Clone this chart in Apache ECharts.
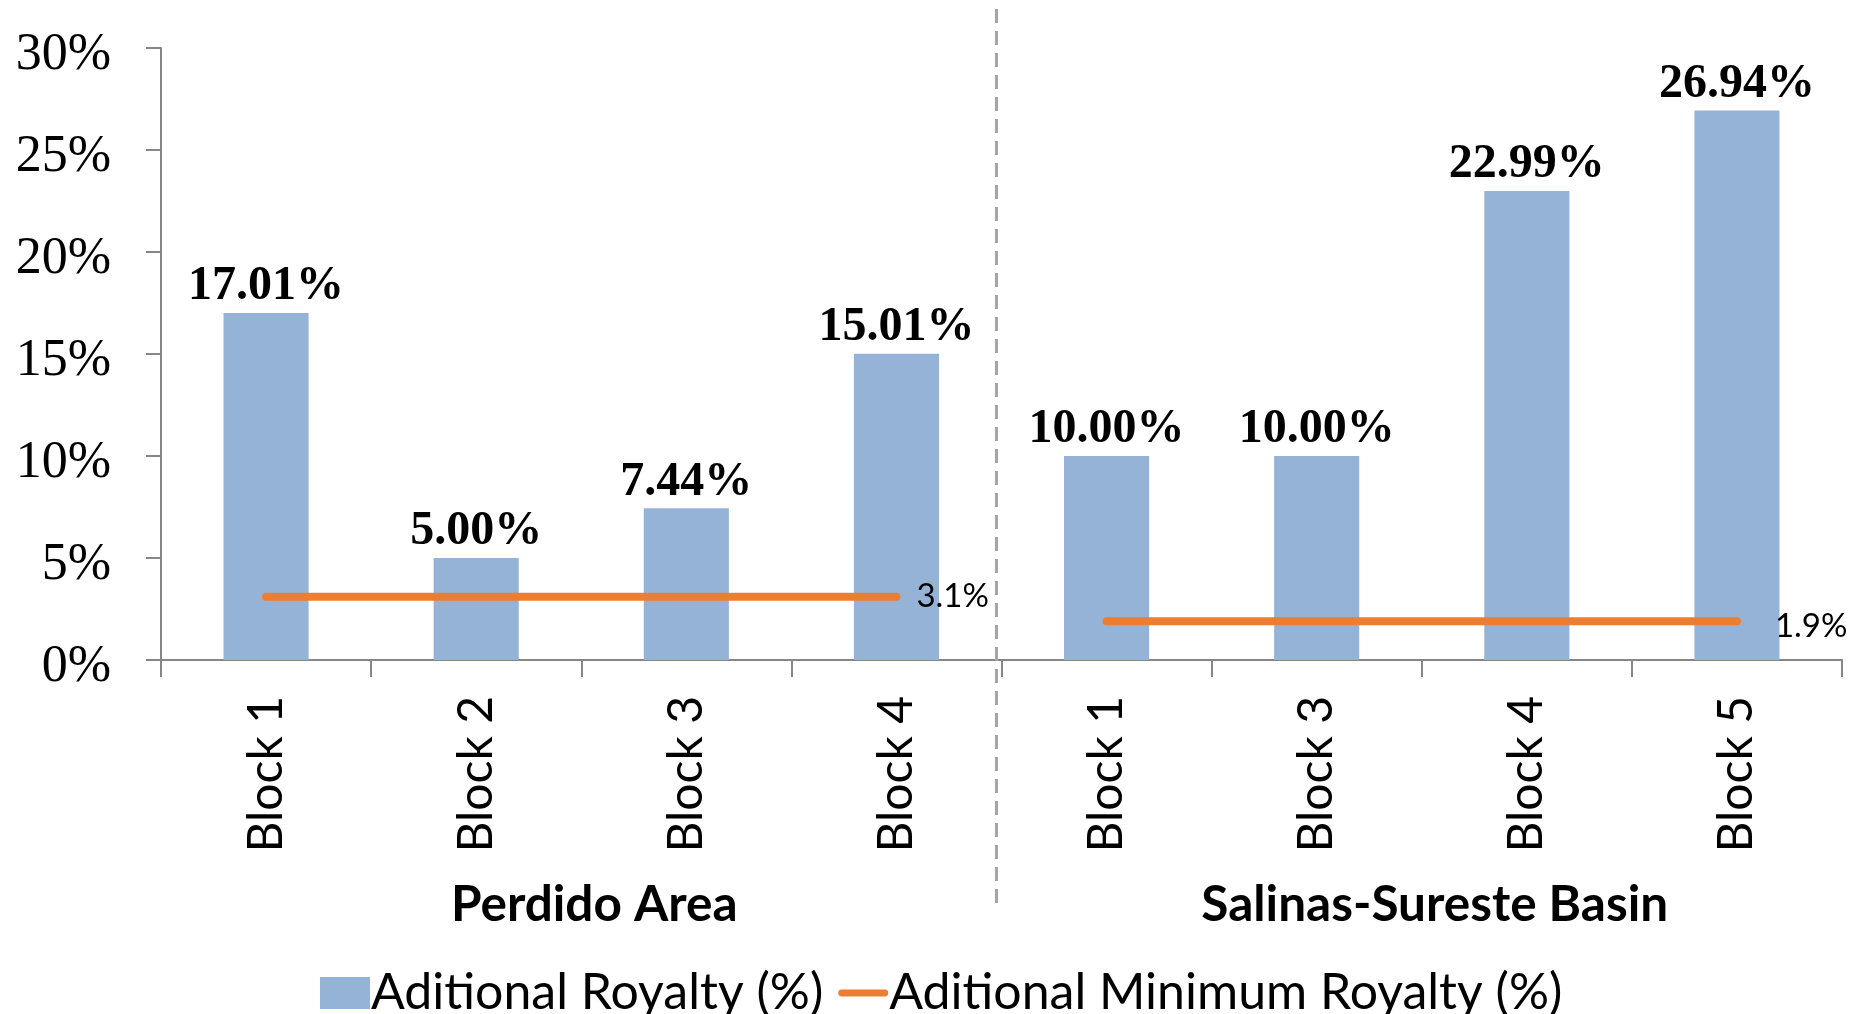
<!DOCTYPE html>
<html><head><meta charset="utf-8">
<script src="https://cdn.jsdelivr.net/npm/echarts@6/dist/echarts.min.js"></script>
<style>html,body{margin:0;padding:0;background:#fff}#c{width:1849px;height:1014px}</style>
</head><body><div id="c"></div>
<script>
const categories = ['Block 1','Block 2','Block 3','Block 4','Block 1','Block 3','Block 4','Block 5'];
const groups = ['Perdido Area','Salinas-Sureste Basin'];
const additionalRoyalty = [17.01, 5.00, 7.44, 15.01, 10.00, 10.00, 22.99, 26.94];
const minRoyaltyPerdido = [3.1, 3.1, 3.1, 3.1, '-', '-', '-', '-'];
const minRoyaltySalinas = ['-', '-', '-', '-', 1.9, 1.9, 1.9, 1.9];
const yMin = 0, yMax = 30, yStep = 5;

const SANS = "Lato, 'Liberation Sans', sans-serif";
const SERIF = "'Liberation Serif', 'Times New Roman', serif";
const chart = echarts.init(document.getElementById('c'), null, {renderer: 'canvas'});
const option = {
  animation: false,
  backgroundColor: '#fff',
  grid: {left: 161, right: 7, top: 48, bottom: 354, containLabel: false},
  legend: {
    left: 315, top: 963,
    itemWidth: 50, itemHeight: 32, itemGap: 15,
    textStyle: {fontFamily: SANS, fontSize: 50, color: '#000', padding: [0,0,0,-4]},
    data: [
      {name: 'Aditional Royalty (%)', icon: 'rect'},
      {name: 'Aditional Minimum Royalty (%)', icon: 'path://M4,0 L54,0 A4,4 0 0 1 54,8 L4,8 A4,4 0 0 1 4,0 Z'}
    ]
  },
  xAxis: [{
    type: 'category', data: categories, position: 'bottom',
    axisLine: {lineStyle: {color: '#868686', width: 2}},
    axisTick: {show: true, length: 17, lineStyle: {color: '#868686', width: 2}},
    axisLabel: {rotate: 90, margin: 36, fontFamily: SANS, fontSize: 48, color: '#000', interval: 0}
  }, {
    type: 'category', data: groups, position: 'bottom', offset: 220,
    axisLine: {show: false}, axisTick: {show: false},
    axisLabel: {margin: 0, fontFamily: SANS, fontSize: 49.5, fontWeight: 'bold', color: '#000', interval: 0, padding: [0,0,0,26]}
  }],
  yAxis: {
    type: 'value', min: yMin, max: yMax, interval: yStep,
    splitLine: {show: false},
    axisLine: {show: true, lineStyle: {color: '#868686', width: 2}},
    axisTick: {show: true, length: 15, lineStyle: {color: '#868686', width: 2}},
    axisLabel: {
      formatter: '{v|{value}%}', margin: 50, color: '#000',
      rich: {v: {fontFamily: SERIF, fontSize: 52, color: '#000', padding: [14, 0, 0, 0]}}
    }
  },
  series: [{
    name: 'Aditional Royalty (%)', type: 'bar', data: additionalRoyalty,
    barWidth: '40.5%',
    itemStyle: {color: '#95B3D7'},
    label: {show: true, position: 'top', distance: 2, fontFamily: SERIF, fontWeight: 'bold', fontSize: 48, color: '#000',
      formatter: p => p.value.toFixed(2) + '%'}
  }, {
    name: 'Aditional Minimum Royalty (%)', type: 'line', data: minRoyaltyPerdido,
    symbol: 'none', showSymbol: false,
    lineStyle: {color: '#ED7D31', width: 8, cap: 'round'},
    itemStyle: {color: '#ED7D31'},
    endLabel: {show: true, distance: 20, fontFamily: SANS, fontSize: 33, color: '#000', formatter: p => p.value + '%'}
  }, {
    name: 'Aditional Minimum Royalty (%)', type: 'line', data: minRoyaltySalinas,
    symbol: 'none', showSymbol: false,
    lineStyle: {color: '#ED7D31', width: 8, cap: 'round'},
    itemStyle: {color: '#ED7D31'},
    endLabel: {show: true, distance: 38, offset: [0, 5], fontFamily: SANS, fontSize: 33, color: '#000', formatter: p => p.value + '%'}
  }]
};
chart.setOption(option);
// dashed separator between the two groups, positioned via the axis scale
const xa = chart.convertToPixel({xAxisIndex: 0}, 3);
const xb = chart.convertToPixel({xAxisIndex: 0}, 4);
const sepX = (xa + xb) / 2 - 5;
chart.setOption({
  graphic: [{
    type: 'line', shape: {x1: sepX, y1: 9, x2: sepX, y2: 908},
    style: {stroke: '#A6A6A6', lineWidth: 3, lineDash: [14, 8]}, z: 100
  }]
});
</script></body></html>
